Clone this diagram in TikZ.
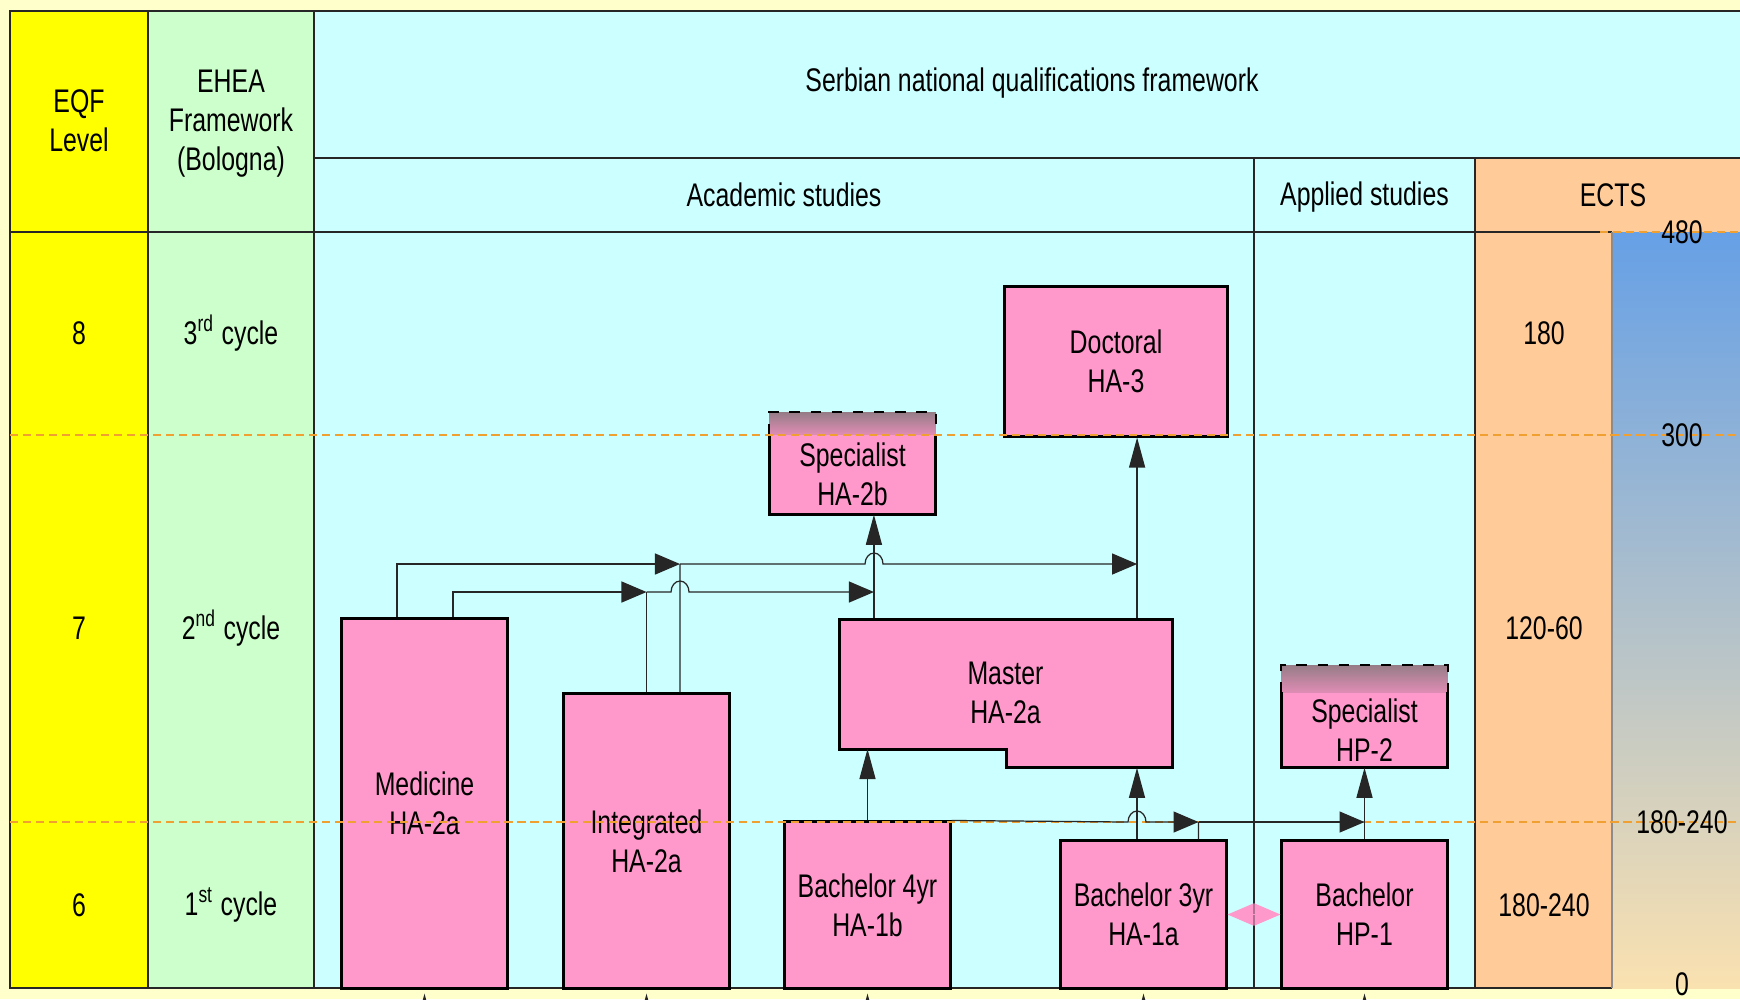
\documentclass[tikz,border=0pt]{standalone}
\usepackage{fontspec}
\setmainfont{Liberation Sans}[FakeStretch=0.76]
\usetikzlibrary{arrows.meta}

\definecolor{bgyellow}{HTML}{FFFFCC}
\definecolor{eqfyellow}{HTML}{FFFF00}
\definecolor{eheagreen}{HTML}{CCFFCC}
\definecolor{nqfcyan}{HTML}{CCFFFF}
\definecolor{ectsorange}{HTML}{FFCC99}
\definecolor{boxpink}{HTML}{FF99CC}
\definecolor{specgray}{HTML}{967D87}
\definecolor{specpink}{HTML}{E08CB4}
\definecolor{scaleblue}{HTML}{66A0E6}
\definecolor{scalepeach}{HTML}{FAE1B0}
\definecolor{dashorange}{HTML}{F0A030}

\begin{document}
\begin{tikzpicture}[x=0.01cm, y=-0.01cm, font=\fontsize{9.3}{11.1}\selectfont,
    qualbox/.style={fill=boxpink, draw=black, line width=0.85pt, align=center, inner sep=0pt, minimum width=1.65cm},
    pinkpart/.style={fill=boxpink, align=center, inner sep=0pt, minimum width=1.65cm},
    celltext/.style={align=center, inner sep=1pt},
    gridline/.style={line width=0.5pt, draw=black!85},
    conn/.style={line width=0.35pt, draw=black!85},
    hend/.style={-{Triangle[length=2.5mm,width=2.1mm]}},
    vend/.style={-{Triangle[length=3mm,width=1.6mm]}},
    pinkarrow/.style={{Triangle[length=2.6mm,width=2.2mm]}-{Triangle[length=2.6mm,width=2.2mm]}, draw=boxpink, line width=0.35pt},
    levelline/.style={draw=dashorange, line width=0.45pt, dash pattern=on 2.3pt off 1.4pt}]

    % Background and columns of the table
    \useasboundingbox (0,0) rectangle (1740,999);
    \fill[bgyellow] (0,0) rectangle (1740,999);
    \fill[eqfyellow] (10,11) rectangle (148,988);
    \fill[eheagreen] (148,11) rectangle (314,988);
    \fill[nqfcyan] (314,11) rectangle (1740,988);
    \fill[ectsorange] (1475,158) rectangle (1740,232) (1475,232) rectangle (1612,988);
    \shade[top color=scaleblue, bottom color=scalepeach] (1612,232) rectangle (1740,988);

    % Table lines
    \draw[gridline] (1740,11) -- (10,11) -- (10,988) -- (1612,988);
    \draw[gridline] (148,11) -- (148,988) (314,11) -- (314,988);
    \draw[gridline] (314,158) -- (1740,158) (10,232) -- (1612,232);
    \draw[gridline] (1254,158) -- (1254,988) (1475,158) -- (1475,988);
    \draw[gridline, black!45] (1612,232) -- (1612,988);

    % Header
    \node[celltext] (eqfhead) at (79,121) {EQF\\Level};
    \node[celltext] (eheahead) at (231,124) {EHEA\\Framework\\(Bologna)};
    \node[celltext] (nqfhead) at (1032,83) {Serbian national qualifications framework};
    \node[celltext] (acadhead) at (784,195) {Academic studies};
    \node[celltext] (applhead) at (1364.5,197) {Applied studies};
    \node[celltext] (ectshead) at (1613,195) {ECTS};

    % Levels, cycles and credits
    \foreach \lvl/\y/\cyc/\sfx/\ects in {8/333/3/rd/180, 7/628/2/nd/120-60, 6/905/1/st/180-240}{
        \node[celltext] (lvl\lvl) at (79,\y) {\lvl};
        \node[celltext] (cyc\lvl) at (231,\y) {\cyc\textsuperscript{\sfx} cycle};
        \node[celltext] (ects\lvl) at (1544,\y) {\ects};
    }

    % Qualifications
    \node[qualbox, minimum width=2.22cm, minimum height=1.49cm] (doc) at (1116,361.5) {Doctoral\\HA-3};
    \node[pinkpart, minimum height=0.79cm] (spec) at (852.5,474.5) {Specialist\\HA-2b};
    \node[qualbox, minimum height=3.69cm] (med) at (424.5,803.5) {Medicine\\HA-2a};
    \node[qualbox, minimum height=2.94cm] (integ) at (646.5,841) {Integrated\\HA-2a};
    \node[qualbox, minimum height=1.66cm] (bach4) at (867.5,905) {Bachelor 4yr\\HA-1b};
    \node[qualbox, minimum height=1.47cm] (bach3) at (1143.5,914.5) {Bachelor 3yr\\HA-1a};
    \node[pinkpart, minimum height=0.74cm] (spechp) at (1364.5,730) {Specialist\\HP-2};
    \node[qualbox, minimum height=1.47cm] (bachhp) at (1364.5,914.5) {Bachelor\\HP-1};

    % Master box with its step
    \filldraw[fill=boxpink, draw=black, line width=0.85pt]
        (839,619) -- (1172,619) -- (1172,767) -- (1006,767) -- (1006,749) -- (839,749) -- cycle;
    \node[celltext, minimum width=3.33cm, minimum height=1.48cm] (master) at (1005.5,693) {Master\\HA-2a};
    \coordinate (mastBL) at (839,749);

    % Specialist boxes, shaded top part
    \foreach \b/\h in {spec/0.22cm, spechp/0.27cm}{
        \shade[top color=specgray, bottom color=specpink] (\b.north west) rectangle ([yshift=\h]\b.north east);
        \draw[line width=0.6pt, dashed] (\b.north west) -- ([yshift=\h]\b.north west) -- ([yshift=\h]\b.north east) -- (\b.north east);
        \draw[line width=0.85pt] (\b.north west) -- (\b.south west) -- (\b.south east) -- (\b.north east);
    }

    % Level borders
    \draw[levelline] (10,435) -- (1740,435) (10,822) -- (1740,822) (1600,232) -- (1740,232);

    % Connector points
    \coordinate (medL) at ([xshift=-0.275cm]med.north);
    \coordinate (medR) at ([xshift=0.285cm]med.north);
    \coordinate (intR) at ([xshift=0.335cm]integ.north);
    \coordinate (mastS) at ([xshift=-1.315cm]master.north);
    \coordinate (mastD) at ([xshift=1.315cm]master.north);
    \coordinate (b3L) at ([xshift=-0.065cm]bach3.north);
    \coordinate (b3R) at ([xshift=0.55cm]bach3.north);
    \coordinate (busA) at (680,564);
    \coordinate (busB) at (646.5,592);
    \coordinate (busC) at (1198.5,822);

    % 2nd cycle transitions
    \draw[conn, hend] (medL) |- (busA);
    \draw[conn] (intR) -- (busA);
    \draw[conn, hend] (busA) -- (865,564) arc[start angle=180, end angle=0, x radius=0.09cm, y radius=0.11cm] -- (mastD |- busA);
    \draw[conn, hend] (medR) |- (busB);
    \draw[conn] (integ.north) -- (busB);
    \draw[conn, hend] (busB) -- (671,592) arc[start angle=180, end angle=0, x radius=0.09cm, y radius=0.11cm] -- (mastS |- busB);
    \draw[conn, vend] (mastS) -- (mastS |- spec.south);
    \draw[conn, vend] (mastD) -- (mastD |- doc.south);

    % 1st cycle transitions
    \draw[conn, vend] (bach4.north) -- (bach4.north |- mastBL);
    \draw[conn, vend] (b3L) -- (b3L |- master.south);
    \draw[conn, hend] (bach4.north east) -- (1128,822) arc[start angle=180, end angle=0, x radius=0.09cm, y radius=0.11cm] -- (busC);
    \draw[conn] (b3R) -- (busC);
    \draw[conn, hend] (busC) -- (busC -| bachhp.north);
    \draw[conn, vend] (bachhp.north) -- (spechp.south);
    \draw[pinkarrow] (bach3.east) -- (bachhp.west);

    % Entry from below
    \foreach \b in {med,integ,bach4,bach3,bachhp}
        \draw[conn, vend] ([yshift=-0.45cm]\b.south) -- ([yshift=-0.04cm]\b.south);

    % ECTS scale
    \node[celltext] (sc480) at (1682,232) {480};
    \node[celltext] (sc300) at (1682,435) {300};
    \node[celltext] (sc180) at (1682,822) {180-240};
    \node[celltext] (sc0) at (1682,984) {0};
\end{tikzpicture}
\end{document}
